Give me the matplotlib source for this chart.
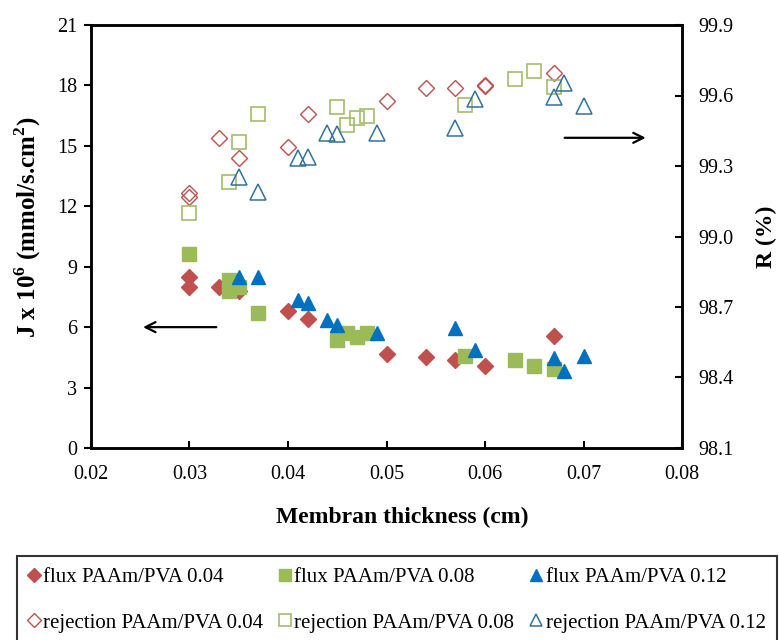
import matplotlib
matplotlib.use("Agg")
import matplotlib.pyplot as plt

plt.rcParams["font.family"] = ["Liberation Serif", "DejaVu Serif"]
plt.rcParams["mathtext.fontset"] = "custom"
plt.rcParams["mathtext.rm"] = "Liberation Serif"
plt.rcParams["mathtext.bf"] = "Liberation Serif:bold"

# flux (left axis, J x 10^6)
flux04_x = [0.030, 0.030, 0.033, 0.035, 0.040, 0.042, 0.050, 0.054, 0.057, 0.060, 0.067]
flux04_y = [8.5, 8.0, 8.0, 7.8, 6.8, 6.4, 4.65, 4.5, 4.37, 4.05, 5.55]

flux08_x = [0.030, 0.034, 0.034, 0.035, 0.037, 0.045, 0.046, 0.047, 0.048, 0.058, 0.063, 0.065, 0.067]
flux08_y = [9.63, 8.35, 7.8, 8.0, 6.7, 5.36, 5.7, 5.53, 5.7, 4.57, 4.37, 4.09, 3.92]

flux12_x = [0.035, 0.037, 0.041, 0.042, 0.044, 0.045, 0.049, 0.057, 0.059, 0.067, 0.068, 0.070]
flux12_y = [8.5, 8.5, 7.35, 7.18, 6.36, 6.1, 5.73, 5.94, 4.87, 4.45, 3.84, 4.57]

# rejection (right axis, R %)
rej04_x = [0.030, 0.030, 0.033, 0.035, 0.040, 0.042, 0.050, 0.054, 0.057, 0.060, 0.060, 0.067]
rej04_y = [99.186, 99.169, 99.418, 99.335, 99.382, 99.52, 99.576, 99.63, 99.63, 99.645, 99.64, 99.694]

rej08_x = [0.030, 0.034, 0.035, 0.037, 0.045, 0.046, 0.047, 0.048, 0.058, 0.063, 0.065, 0.067]
rej08_y = [99.10, 99.23, 99.40, 99.52, 99.55, 99.474, 99.505, 99.513, 99.56, 99.67, 99.705, 99.637]

rej12_x = [0.035, 0.037, 0.041, 0.042, 0.044, 0.045, 0.049, 0.057, 0.059, 0.067, 0.068, 0.070]
rej12_y = [99.254, 99.188, 99.333, 99.34, 99.44, 99.436, 99.44, 99.46, 99.585, 99.592, 99.652, 99.555]

red = "#C0504D"
green = "#9BBB59"
blue = "#0070C0"
blue_open = "#31729B"

fig = plt.figure(figsize=(7.79, 6.40), dpi=100)
ax = fig.add_axes([91 / 779, 1 - 448 / 640, (682 - 91) / 779, (448 - 25) / 640])
ax2 = ax.twinx()

h1, = ax.plot(flux04_x, flux04_y, "D", color=red, markersize=8.5, linestyle="none",
              label="flux PAAm/PVA 0.04")
h2, = ax.plot(flux08_x, flux08_y, "s", color=green, markersize=9.5, linestyle="none",
              label="flux PAAm/PVA 0.08")
h3, = ax.plot(flux12_x, flux12_y, "^", color=blue, markersize=10.5, linestyle="none",
              label="flux PAAm/PVA 0.12")

h4, = ax2.plot(rej04_x, rej04_y, "D", mfc="none", mec=red, mew=1.0, markersize=8.5,
               linestyle="none", label="rejection PAAm/PVA 0.04")
h5, = ax2.plot(rej08_x, rej08_y, "s", mfc="none", mec="#A3BE6A", mew=1.2, markersize=10.5,
               linestyle="none", label="rejection PAAm/PVA 0.08")
h6, = ax2.plot(rej12_x, rej12_y, "^", mfc="none", mec=blue_open, mew=1.1, markersize=11,
               linestyle="none", label="rejection PAAm/PVA 0.12")

ax.set_xlim(0.02, 0.08)
ax.set_ylim(0, 21)
ax.set_xticks([0.02, 0.03, 0.04, 0.05, 0.06, 0.07, 0.08])
ax.set_xticklabels(["0.02", "0.03", "0.04", "0.05", "0.06", "0.07", "0.08"])
ax.set_yticks(range(0, 22, 3))
ax2.set_ylim(98.1, 99.9)
ax2.set_yticks([98.1, 98.4, 98.7, 99.0, 99.3, 99.6, 99.9])
ax2.set_yticklabels(["98.1", "98.4", "98.7", "99.0", "99.3", "99.6", "99.9"])

for a in (ax, ax2):
    for s in a.spines.values():
        s.set_linewidth(1.8)

ax.tick_params(axis="y", direction="out", length=5, width=1.5, labelsize=14.5, pad=5)
ax.tick_params(axis="x", direction="in", length=5, width=1.5, labelsize=14.5, pad=12)
ax2.tick_params(axis="y", direction="in", length=5, width=1.5, labelsize=14.5, pad=12)

ax.set_xlabel("Membran thickness (cm)", fontsize=17, fontweight="bold")
ax.xaxis.set_label_coords((402 - 91) / 591, -0.14)
ax.set_ylabel(r"J x 10$^{\mathbf{6}}$ (mmol/s.cm$^{\mathbf{2}}$)", fontsize=18,
              fontweight="bold")
ax.yaxis.set_label_coords((43 - 91) / 591, (448 - 227) / 423)
ax2.set_ylabel("R (%)", fontsize=17, fontweight="bold", labelpad=16)

ax.annotate("", xy=(0.025, 6.0), xytext=(0.033, 6.0),
            arrowprops=dict(arrowstyle="->", color="black", lw=1.6, mutation_scale=18))
ax2.annotate("", xy=(0.0766, 99.42), xytext=(0.0678, 99.42),
             arrowprops=dict(arrowstyle="->", color="black", lw=1.6, mutation_scale=18))

leg = fig.legend(handles=[h1, h4, h2, h5, h3, h6], ncol=3, loc="upper left",
                 bbox_to_anchor=(17 / 779, 1 - 556 / 640),
                 fontsize=15, frameon=True, fancybox=False, borderaxespad=0,
                 edgecolor="black", handlelength=0.5, handletextpad=0.2,
                 columnspacing=0.8, labelspacing=1.25, borderpad=0.55, markerscale=0.85)
leg.get_frame().set_linewidth(1.5)

fig.savefig("out.png", dpi=100)
